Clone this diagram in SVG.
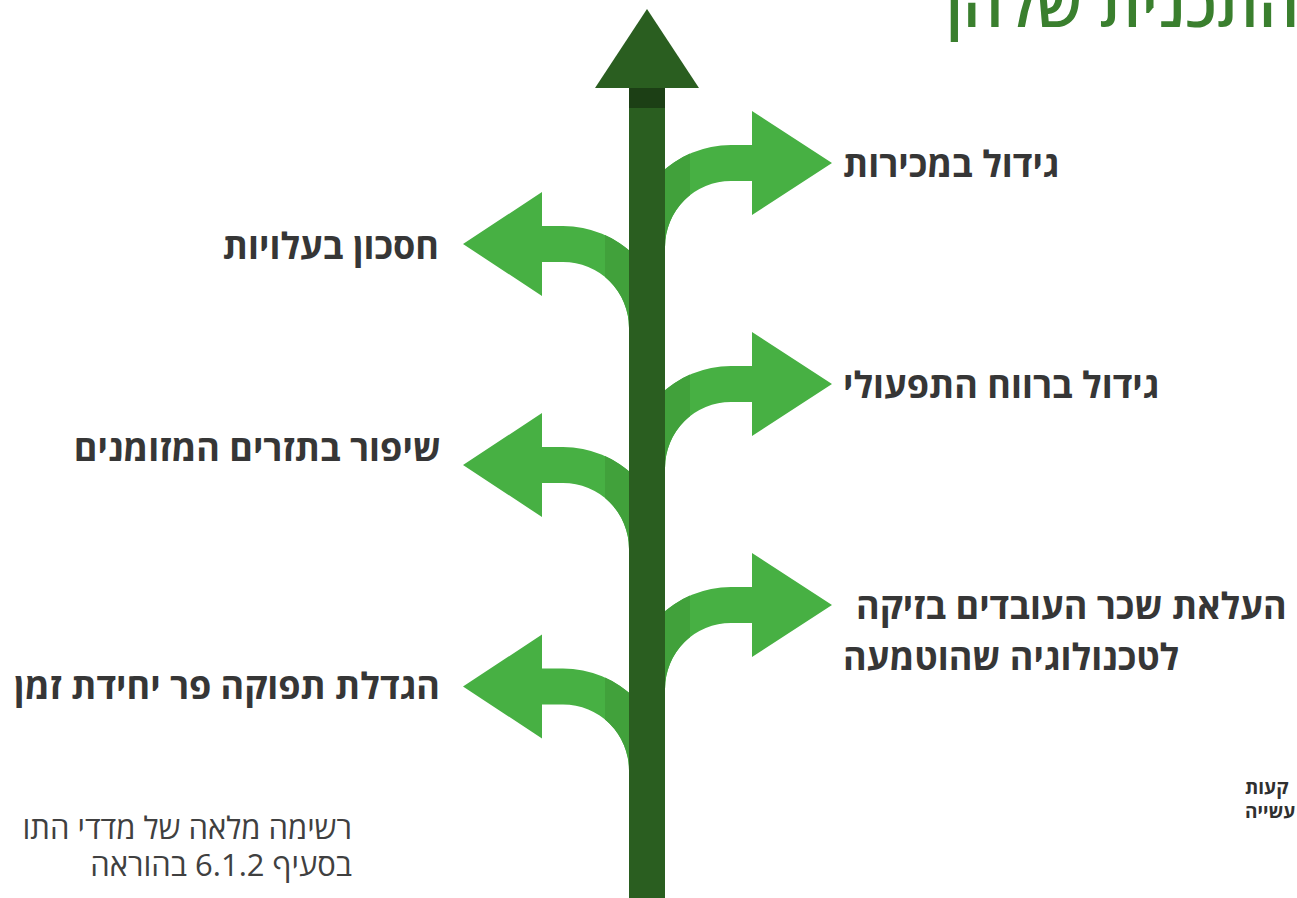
<svg xmlns="http://www.w3.org/2000/svg" width="1297" height="898" viewBox="0 0 1297 898">
<style>
.br{fill:#47b043}
.brd{fill:#41a13b}
.shaft{fill:#2a5e20}
.shaftTop{fill:#1c3f15}
.lbl{font-family:"Open Sans","Noto Sans",sans-serif;font-weight:700;font-size:36px;fill:#363636}
.note{font-family:"Open Sans","Noto Sans",sans-serif;font-weight:400;font-size:31px;fill:#404040}
.small{font-family:"Open Sans","Noto Sans",sans-serif;font-weight:700;font-size:19px;fill:#303030}
.title{font-family:"Open Sans","Noto Sans",sans-serif;font-weight:600;font-size:63px;fill:#3a7f2e}
</style>
<defs>
<path id="rb" d="M629 150 L629 84 A102 102 0 0 1 731 -18 L752 -18 L752 -52 L832 0 L752 52 L752 18 L731 18 A66 66 0 0 0 665 84 L665 150 Z"/>
<path id="lb" d="M665 150 L665 84 A102 102 0 0 0 563 -18 L542 -18 L542 -52 L463 0 L542 52 L542 18 L563 18 A66 66 0 0 1 629 84 L629 150 Z"/>
<clipPath id="cr"><rect x="665" y="-60" width="25" height="220"/></clipPath>
<clipPath id="cl"><rect x="605" y="-60" width="24" height="220"/></clipPath>
</defs>
<rect width="1297" height="898" fill="#ffffff"/>
<text class="title" x="946" y="27">התכנית שלהן</text>
<g id="connectors">
<g id="branch-r1" transform="translate(0,163)"><use href="#rb" class="br"/><use href="#rb" class="brd" clip-path="url(#cr)"/></g>
<g id="branch-r2" transform="translate(0,384)"><use href="#rb" class="br"/><use href="#rb" class="brd" clip-path="url(#cr)"/></g>
<g id="branch-r3" transform="translate(0,605)"><use href="#rb" class="br"/><use href="#rb" class="brd" clip-path="url(#cr)"/></g>
<g id="branch-l1" transform="translate(0,244)"><use href="#lb" class="br"/><use href="#lb" class="brd" clip-path="url(#cl)"/></g>
<g id="branch-l2" transform="translate(0,465)"><use href="#lb" class="br"/><use href="#lb" class="brd" clip-path="url(#cl)"/></g>
<g id="branch-l3" transform="translate(0,686.5)"><use href="#lb" class="br"/><use href="#lb" class="brd" clip-path="url(#cl)"/></g>
<g id="main-arrow">
<rect class="shaft" x="629" y="88" width="36" height="810"/>
<rect class="shaftTop" x="629" y="88" width="36" height="20"/>
<polygon class="shaft" points="595,88 699,88 647,9"/>
</g>
</g>
<g id="node-r1"><text class="lbl" x="843" y="177">גידול במכירות</text></g>
<g id="node-r2"><text class="lbl" x="843" y="398">גידול ברווח התפעולי</text></g>
<g id="node-r3"><text class="lbl" x="856" y="619">העלאת שכר העובדים בזיקה</text><text class="lbl" x="843" y="670">לטכנולוגיה שהוטמעה</text></g>
<g id="node-l1"><text class="lbl" x="439" y="259" text-anchor="end">חסכון בעלויות</text></g>
<g id="node-l2"><text class="lbl" x="441" y="461" text-anchor="end">שיפור בתזרים המזומנים</text></g>
<g id="node-l3"><text class="lbl" x="440" y="699" text-anchor="end">הגדלת תפוקה פר יחידת זמן</text></g>
<g id="note-left">
<text class="note" x="352" y="839" text-anchor="end">רשימה מלאה של מדדי התו</text>
<text class="note" x="352" y="876" text-anchor="end">בסעיף 6.1.2 בהוראה</text>
</g>
<g id="note-right">
<text class="small" x="1245" y="794">קעות</text>
<text class="small" x="1245" y="818">עשייה</text>
</g>
</svg>
